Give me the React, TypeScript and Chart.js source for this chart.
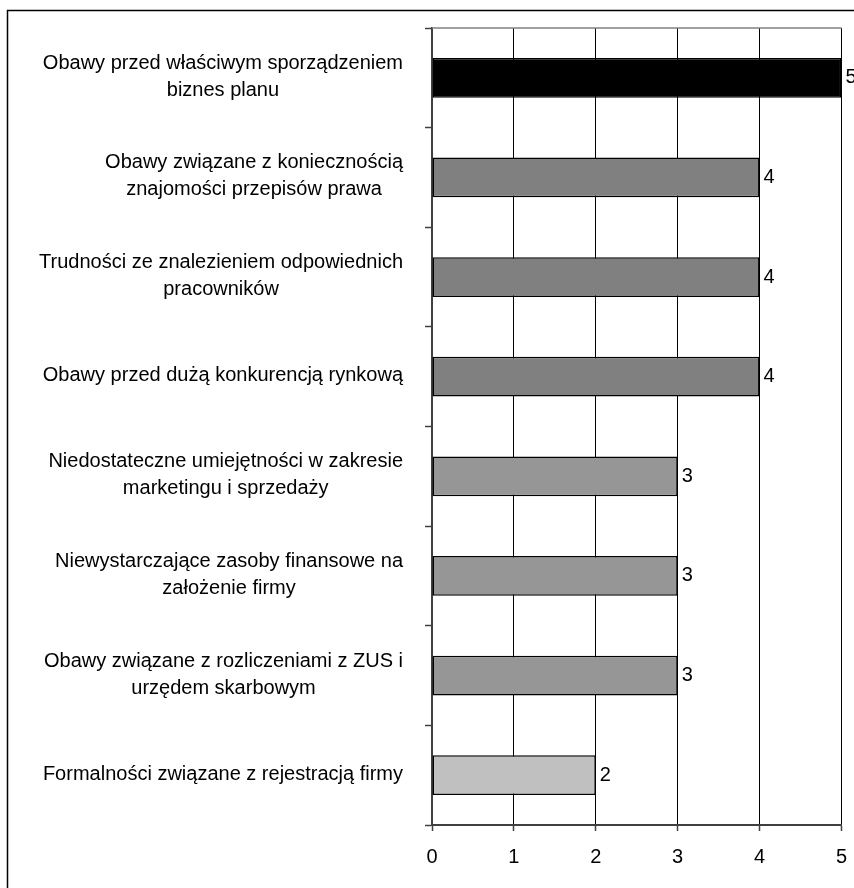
import React, { useEffect, useRef } from "react";
import { Chart, registerables } from "chart.js";

Chart.register(...registerables);

// Categories (each entry is the list of lines of the label)
const categories: string[][] = [
  ["Obawy przed właściwym sporządzeniem", "biznes planu"],
  ["Obawy związane z koniecznością", "znajomości przepisów prawa"],
  ["Trudności ze znalezieniem odpowiednich", "pracowników"],
  ["Obawy przed dużą konkurencją rynkową"],
  ["Niedostateczne umiejętności w zakresie", "marketingu i sprzedaży"],
  ["Niewystarczające zasoby finansowe na", "założenie firmy"],
  ["Obawy związane z rozliczeniami z ZUS i", "urzędem skarbowym"],
  ["Formalności związane z rejestracją firmy"],
];

const values: number[] = [5, 4, 4, 4, 3, 3, 3, 2];

const barColors: string[] = [
  "#000000",
  "#808080",
  "#808080",
  "#808080",
  "#969696",
  "#969696",
  "#969696",
  "#c0c0c0",
];

const xTicks: number[] = [0, 1, 2, 3, 4, 5];

const FONT = "'Liberation Sans', Arial, sans-serif";
const FONT_SIZE = 20;

const framePlugin = {
  id: "frame",
  beforeDraw(chart: any) {
    const { ctx, width, height } = chart;
    ctx.save();
    ctx.fillStyle = "#ffffff";
    ctx.fillRect(0, 0, width, height);
    ctx.strokeStyle = "#000000";
    ctx.lineWidth = 1.5;
    ctx.beginPath();
    ctx.moveTo(7.5, height + 2);
    ctx.lineTo(7.5, 10.5);
    ctx.lineTo(width + 2, 10.5);
    ctx.stroke();
    ctx.restore();
  },
  afterDraw(chart: any) {
    const { ctx, chartArea } = chart;
    ctx.save();
    ctx.strokeStyle = "#808080";
    ctx.lineWidth = 1.5;
    ctx.beginPath();
    ctx.moveTo(chartArea.left, chartArea.top);
    ctx.lineTo(chartArea.right, chartArea.top);
    ctx.stroke();
    ctx.restore();
  },
};

// Category labels: each label block is right-aligned, its lines centred within it
const categoryLabelPlugin = {
  id: "categoryLabels",
  afterDraw(chart: any) {
    const { ctx } = chart;
    const yScale = chart.scales.y;
    const rightEdge = chart.chartArea.left - 29;
    const lineHeight = 27;
    ctx.save();
    ctx.font = `${FONT_SIZE}px ${FONT}`;
    ctx.fillStyle = "#000000";
    ctx.textAlign = "center";
    ctx.textBaseline = "middle";
    categories.forEach((lines, i) => {
      const cy = yScale.getPixelForValue(i);
      const widest = Math.max(...lines.map((l) => ctx.measureText(l).width));
      const cx = rightEdge - widest / 2;
      const y0 = cy - ((lines.length - 1) * lineHeight) / 2 - 1;
      lines.forEach((line, j) => {
        ctx.fillText(line, cx, y0 + j * lineHeight);
      });
    });
    ctx.restore();
  },
};

const valueLabelPlugin = {
  id: "valueLabels",
  afterDatasetsDraw(chart: any) {
    const { ctx } = chart;
    const meta = chart.getDatasetMeta(0);
    ctx.save();
    ctx.font = `${FONT_SIZE}px ${FONT}`;
    ctx.fillStyle = "#000000";
    ctx.textAlign = "left";
    ctx.textBaseline = "middle";
    meta.data.forEach((bar: any, i: number) => {
      ctx.fillText(String(values[i]), bar.x + 4, bar.y);
    });
    ctx.restore();
  },
};

export default function App() {
  const canvasRef = useRef<HTMLCanvasElement | null>(null);

  useEffect(() => {
    const canvas = canvasRef.current;
    if (!canvas) return;
    const chart = new Chart(canvas, {
      type: "bar",
      data: {
        labels: categories.map((l) => l.join(" ")),
        datasets: [
          {
            data: values,
            backgroundColor: barColors,
            borderColor: "#000000",
            borderWidth: 1.5,
            borderSkipped: false,
            categoryPercentage: 0.4,
            barPercentage: 1.0,
          },
        ],
      },
      options: {
        indexAxis: "y",
        responsive: false,
        animation: false,
        devicePixelRatio: 1,
        layout: { padding: { top: 28, right: 12, left: 0, bottom: 0 } },
        plugins: {
          legend: { display: false },
          tooltip: { enabled: false },
        },
        scales: {
          x: {
            type: "linear",
            min: 0,
            max: 5,
            afterBuildTicks: (scale: any) => {
              scale.ticks = xTicks.map((v) => ({ value: v }));
            },
            afterFit: (scale: any) => {
              scale.height = 63;
            },
            ticks: {
              color: "#000000",
              font: { family: FONT, size: FONT_SIZE, lineHeight: 1.9 },
              padding: 7,
              autoSkip: false,
              maxRotation: 0,
            },
            grid: {
              color: "#000000",
              lineWidth: 1,
              drawOnChartArea: true,
              drawTicks: true,
              tickLength: 6,
              tickColor: "#404040",
              tickWidth: 1.5,
            },
            border: { display: true, color: "#404040", width: 2 },
          },
          y: {
            type: "category",
            afterFit: (scale: any) => {
              scale.width = 432;
            },
            ticks: { display: false },
            grid: {
              offset: true,
              drawOnChartArea: false,
              drawTicks: true,
              tickLength: 7,
              tickColor: "#404040",
              tickWidth: 1.5,
            },
            border: { display: true, color: "#404040", width: 2 },
          },
        },
      },
      plugins: [framePlugin, categoryLabelPlugin, valueLabelPlugin],
    });
    return () => chart.destroy();
  }, []);

  return (
    <div style={{ position: "absolute", left: 0, top: 0, width: 854, height: 888 }}>
      <canvas ref={canvasRef} width={854} height={888} style={{ display: "block" }} />
    </div>
  );
}
